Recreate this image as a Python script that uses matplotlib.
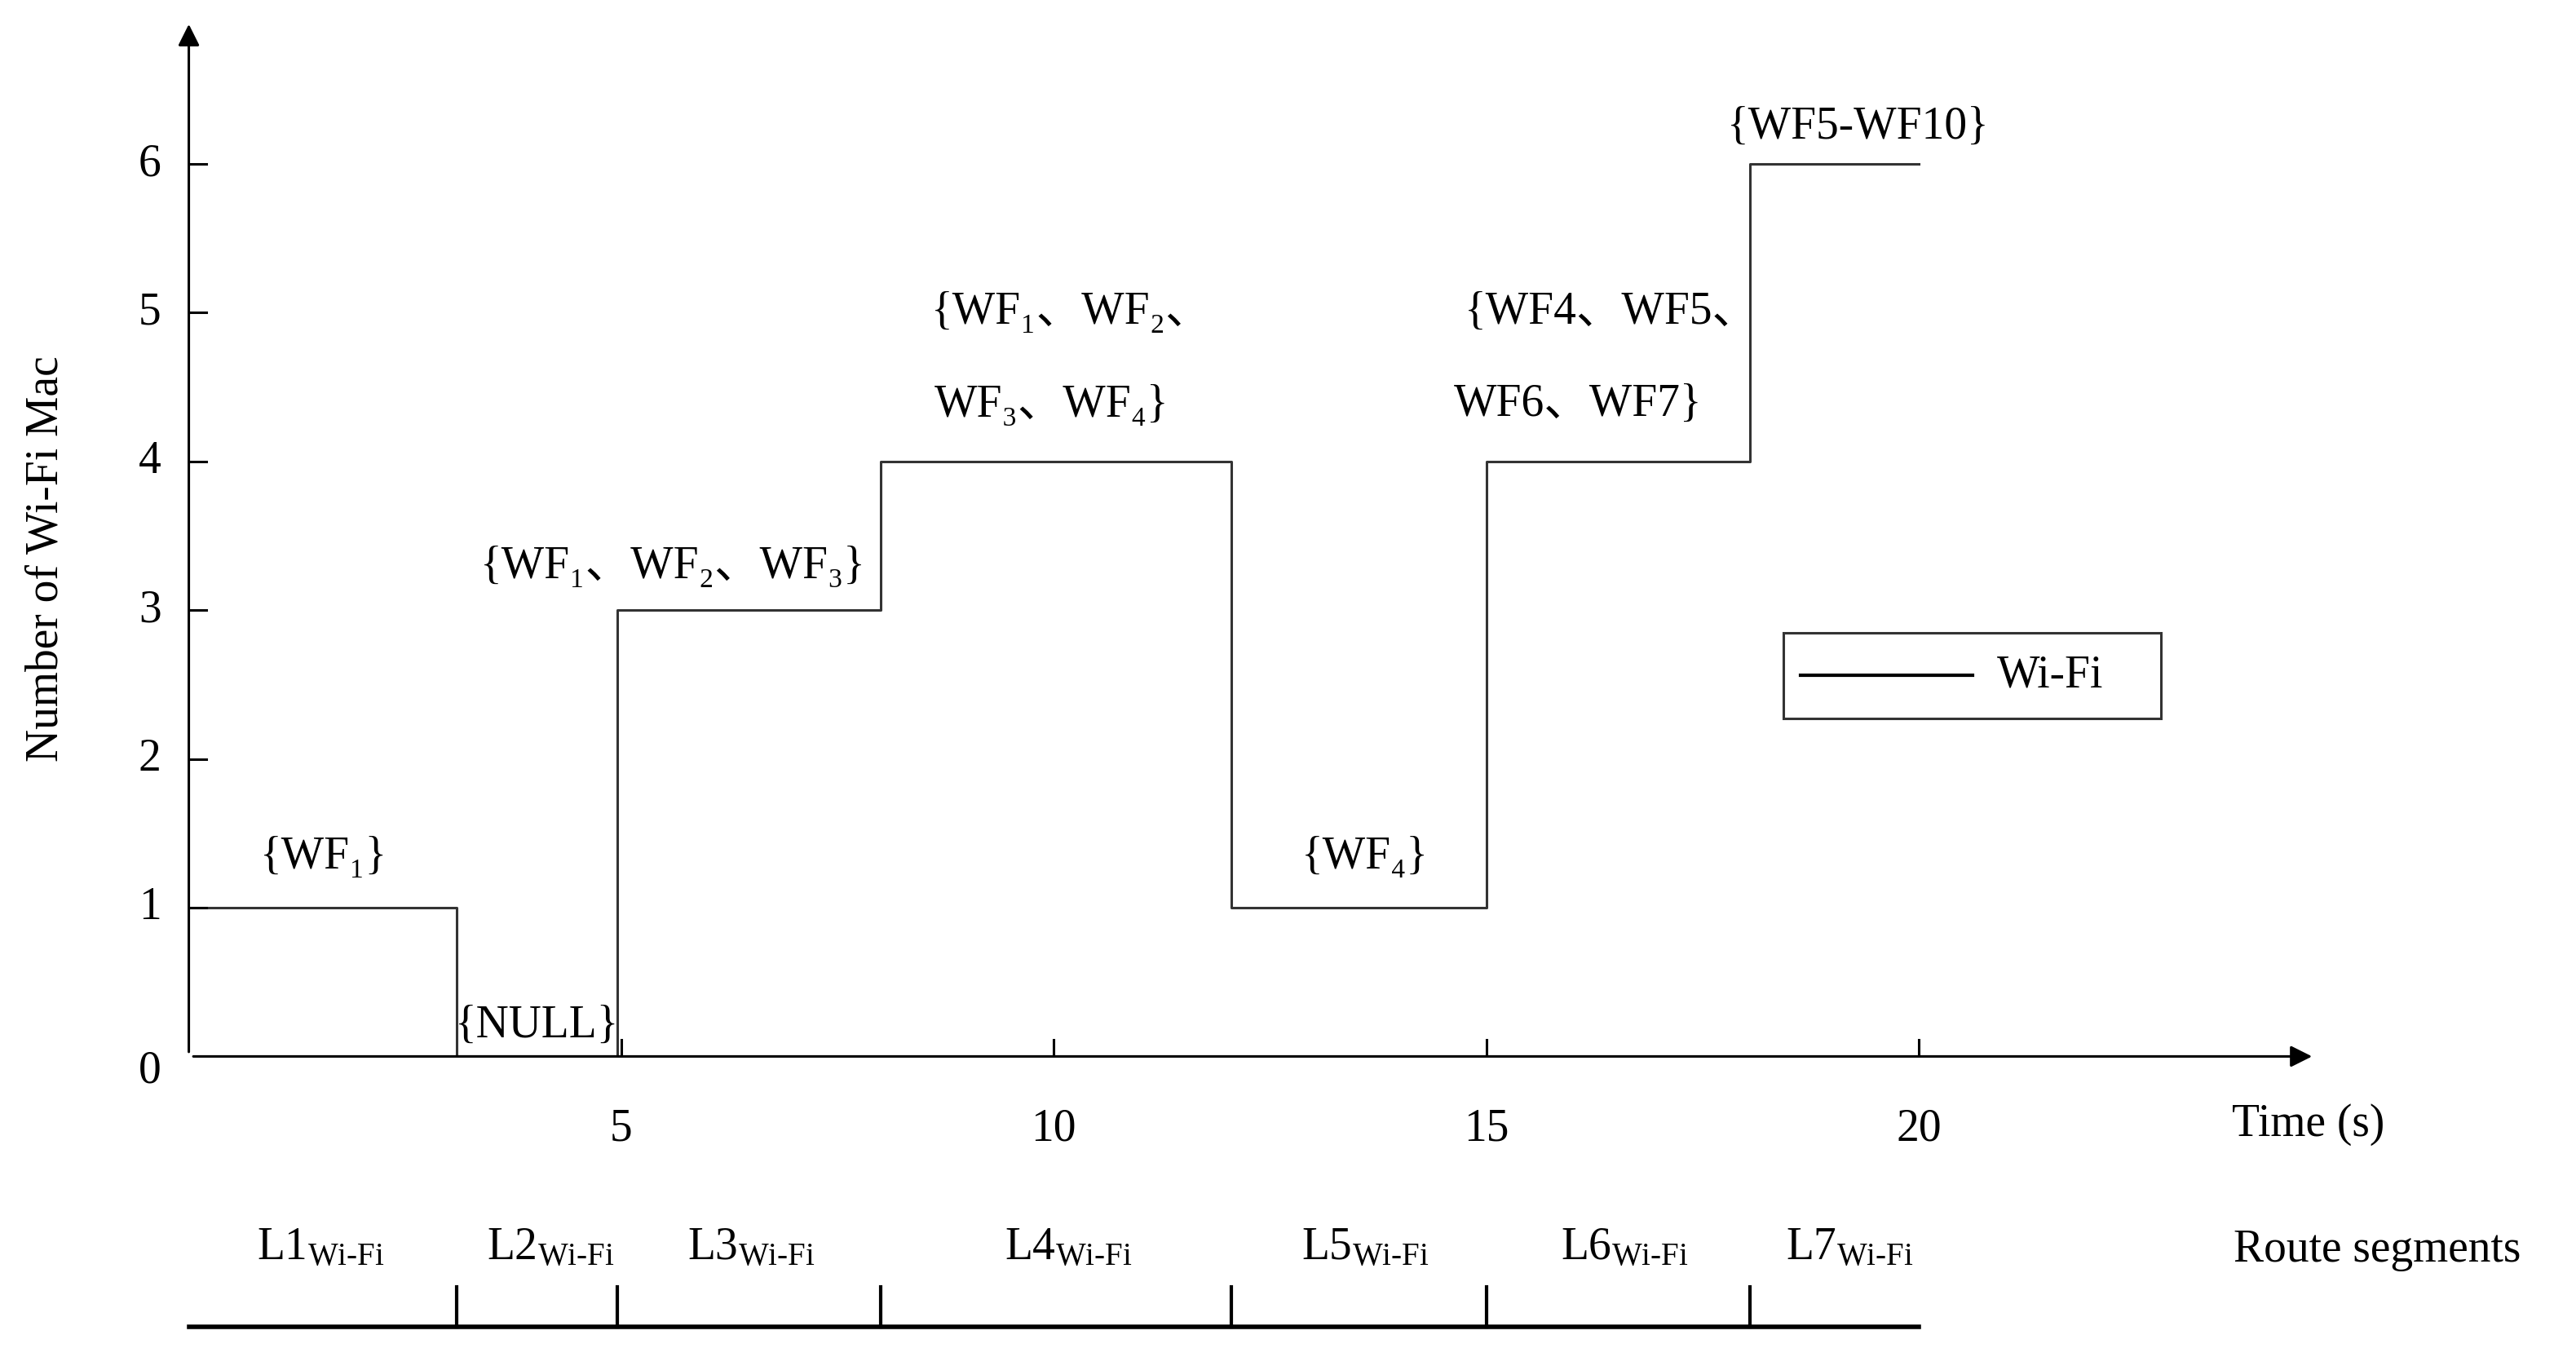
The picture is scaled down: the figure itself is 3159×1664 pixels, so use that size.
import matplotlib
matplotlib.use("Agg")
import matplotlib.pyplot as plt

step_x = [0, 3.1, 3.1, 4.95, 4.95, 8.0, 8.0, 12.05, 12.05, 15.0, 15.0, 18.05, 18.05, 20.0]
step_y = [1, 1, 0, 0, 3, 3, 4, 4, 1, 1, 4, 4, 6, 6]
xticks = [5, 10, 15, 20]
yticks = [0, 1, 2, 3, 4, 5, 6]
seg_bounds = [0, 3.1, 4.95, 8.0, 12.05, 15.0, 18.05, 20.0]
seg_labels = ["L1", "L2", "L3", "L4", "L5", "L6", "L7"]
seg_label_x = [1.52, 4.18, 6.5, 10.17, 13.6, 16.6, 19.2]
annotations = [
    (1.56, 1.34, "{WF₁}"),
    (4.03, 0.2, "{NULL}"),
    (5.6, 3.29, "{WF₁、WF₂、WF₃}"),
    (10.2, 5.0, "{WF₁、WF₂、"),
    (9.98, 4.38, "WF₃、WF₄}"),
    (13.6, 1.34, "{WF₄}"),
    (16.45, 5.0, "{WF4、WF5、"),
    (16.06, 4.38, "WF6、WF7}"),
    (19.3, 6.24, "{WF5-WF10}"),
]

fam = ["Liberation Serif", "Noto Sans CJK SC", "DejaVu Sans"]
plt.rcParams['mathtext.fontset'] = 'custom'
plt.rcParams['mathtext.rm'] = 'Liberation Serif'
plt.rcParams['mathtext.it'] = 'Liberation Serif'
fs = 20
lw = 1.1

fig = plt.figure(figsize=(15.795, 8.32), dpi=200)
ax = fig.add_axes([0.0733, 0.2215, 0.826, 0.764])
ax.set_xlim(0, 24.6)
ax.set_ylim(0, 6.97)
ax.axis("off")

ax.plot(step_x, step_y, color="#333333", lw=lw)
ax.annotate("", xy=(24.6, 0), xytext=(0, 0), arrowprops=dict(arrowstyle="-|>", color="black", lw=lw, mutation_scale=20), annotation_clip=False)
ax.annotate("", xy=(0, 6.97), xytext=(0, 0), arrowprops=dict(arrowstyle="-|>", color="black", lw=lw, mutation_scale=20), annotation_clip=False)

for t in xticks:
    ax.plot([t, t], [0, 0.11], color="black", lw=lw)
    ax.text(t, -0.49, str(t), ha="center", va="center", fontsize=fs, family=fam)
for t in yticks:
    if t > 0:
        ax.plot([0, 0.2], [t, t], color="black", lw=lw)
    ax.text(-0.45, t if t > 0 else -0.1, str(t), ha="center", va="center", fontsize=fs, family=fam)
ax.text(24.5, -0.46, "Time (s)", ha="center", va="center", fontsize=fs, family=fam)
fig.text(0.018, 1 - 340 / 826, "Number of Wi-Fi Mac", rotation=90, ha="center", va="center", fontsize=fs, family=fam)

for x, y, s in annotations:
    ax.text(x, y, s, ha="center", va="center", fontsize=fs, family=fam)

ax.plot([seg_bounds[0], seg_bounds[-1]], [-1.82, -1.82], color="black", lw=2, clip_on=False)
for b in seg_bounds[1:-1]:
    ax.plot([b, b], [-1.82, -1.55], color="black", lw=1.5, clip_on=False)
for x, l in zip(seg_label_x, seg_labels):
    ax.text(x, -1.29, l + "$_{\\mathrm{Wi\\text{-}Fi}}$", ha="center", va="center", fontsize=fs, family=fam, clip_on=False)
ax.text(25.3, -1.3, "Route segments", ha="center", va="center", fontsize=fs, family=fam)

ax.add_patch(plt.Rectangle((18.44, 2.27), 4.36, 0.58, fill=False, edgecolor="#333333", lw=lw))
ax.plot([18.63, 20.62], [2.56, 2.56], color="black", lw=1.5)
ax.text(20.9, 2.56, "Wi-Fi", ha="left", va="center", fontsize=fs, family=fam)

fig.savefig("out.png", dpi=200)
